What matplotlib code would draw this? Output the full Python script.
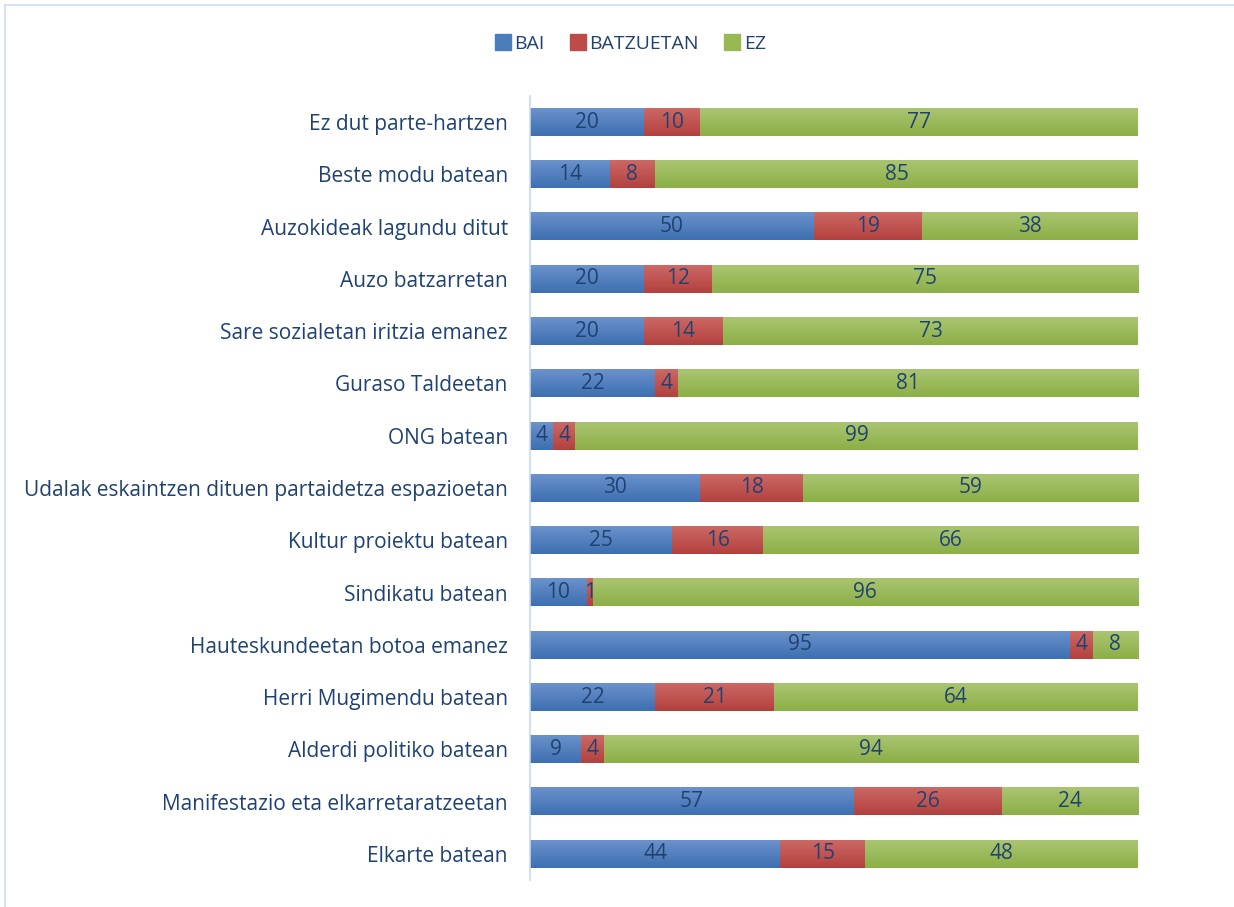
import numpy as np
import matplotlib.pyplot as plt
from matplotlib.lines import Line2D
from matplotlib.colors import LinearSegmentedColormap

# categories, top to bottom as in the chart
categories = [
    "Ez dut parte-hartzen",
    "Beste modu batean",
    "Auzokideak lagundu ditut",
    "Auzo batzarretan",
    "Sare sozialetan iritzia emanez",
    "Guraso Taldeetan",
    "ONG batean",
    "Udalak eskaintzen dituen partaidetza espazioetan",
    "Kultur proiektu batean",
    "Sindikatu batean",
    "Hauteskundeetan botoa emanez",
    "Herri Mugimendu batean",
    "Alderdi politiko batean",
    "Manifestazio eta elkarretaratzeetan",
    "Elkarte batean",
]
bai = [20, 14, 50, 20, 20, 22, 4, 30, 25, 10, 95, 22, 9, 57, 44]
batzuetan = [10, 8, 19, 12, 14, 4, 4, 18, 16, 1, 4, 21, 4, 26, 15]
ez = [77, 85, 38, 75, 73, 81, 99, 59, 66, 96, 8, 64, 94, 24, 48]

series_names = ["BAI", "BATZUETAN", "EZ"]
colors = ["#4A7DBA", "#BD4B48", "#97B953"]
# top / bottom colours of the bar gradient
grads = [("#6B92CB", "#3D6FB1"), ("#CD6865", "#B2413E"), ("#AAC571", "#8CAF46")]
text_col = "#1F4272"

plt.rcParams['font.family'] = ['Open Sans', 'DejaVu Sans']

fig = plt.figure(figsize=(12.34, 9.07), dpi=100)
ax = fig.add_axes([0.4295, 0.0298, 0.4927, 0.8644])

vals = np.array([bai, batzuetan, ez], dtype=float)
totals = vals.sum(axis=0)
shares = vals / totals
y = np.arange(len(categories))
left = np.zeros(len(categories))
ramp = np.linspace(0, 1, 64).reshape(-1, 1)
for i in range(3):
    bars = ax.barh(y, shares[i], left=left, height=0.53, color=colors[i],
                   label=series_names[i])
    cmap = LinearSegmentedColormap.from_list("g%d" % i, list(grads[i]))
    for j, b in enumerate(bars):
        x0, y0 = b.get_x(), b.get_y()
        ax.imshow(ramp, cmap=cmap, aspect='auto', interpolation='bilinear',
                  extent=[x0, x0 + b.get_width(), y0 + b.get_height(), y0],
                  origin='upper', zorder=2)
        ax.text(left[j] + shares[i][j] / 2, y[j], str(int(vals[i][j])),
                ha='center', va='center', fontsize=15, color=text_col, zorder=3)
    left += shares[i]

ax.set_ylim(len(categories) - 0.5, -0.5)
ax.set_xlim(0, 1)
ax.set_yticks(y)
ax.set_yticklabels(categories, fontsize=15, color=text_col)
ax.tick_params(axis='y', length=0, pad=16)
ax.set_xticks([])
for s in ['top', 'right', 'bottom']:
    ax.spines[s].set_visible(False)
ax.spines['left'].set_color('#C9D9EE')
ax.spines['left'].set_linewidth(1.2)

handles = [Line2D([], [], marker='s', ls='', markersize=11, color=c) for c in colors]
fig.legend(handles, series_names, loc='center', bbox_to_anchor=(0.51, 0.952),
           ncol=3, frameon=False, fontsize=14, labelcolor=text_col,
           handletextpad=0.1, columnspacing=1.2, handlelength=1.0)

# chart border (top and left edges visible)
fig.add_artist(Line2D([0.004, 1.0], [0.9945, 0.9945], color='#D6E3F3', lw=1.5))
fig.add_artist(Line2D([0.004, 0.004], [0.0, 0.9945], color='#D6E3F3', lw=1.5))

plt.savefig("out.png", dpi=100)
